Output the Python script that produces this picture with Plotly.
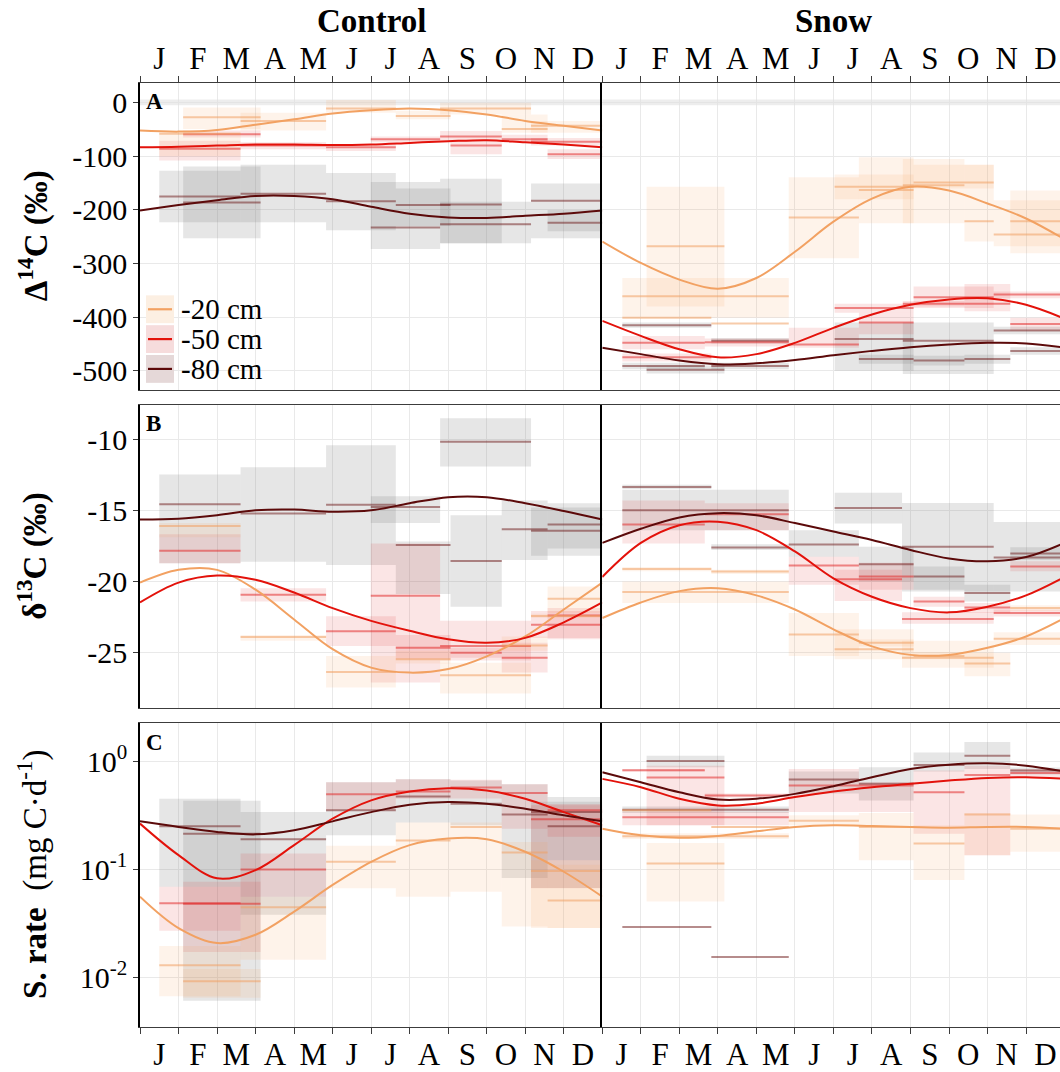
import plotly.graph_objects as go
from plotly.subplots import make_subplots

# ---------------- data ----------------
MONTHS = ["J", "F", "M", "A", "M", "J", "J", "A", "S", "O", "N", "D"]
KNOTS = list(range(13))          # curve knots at month boundaries (0 = 1 Jan, 12 = 31 Dec)
DEPTHS = ["-20 cm", "-50 cm", "-80 cm"]

# atmospheric reference band for Δ14C (low, high)
ATM_BAND = (-5, 6)

# intervals: (start month, end month, mean, low, high)
# ---- Panel A: Δ14C (‰)
A_CTRL_20 = [(0.50, 2.61, -58, -100, -55), (1.12, 3.13, -27, -49, -9), (2.61, 4.83, -34, -52, -19),
             (4.83, 6.64, -11, -19, 5), (6.64, 8.06, -25, -31, -15), (7.79, 10.15, -11, -22, 0),
             (9.39, 10.58, -49, -56, -22), (10.15, 12.0, -43, -56, -34)]
A_CTRL_50 = [(0.50, 2.61, -86, -108, -71), (1.12, 3.13, -59, -65, -52), (2.61, 4.83, -80, -87, -74),
             (4.83, 6.64, -83, -90, -77), (5.99, 7.79, -68, -74, -63), (7.79, 9.39, -63, -72, -53),
             (8.06, 9.39, -80, -96, -71), (9.39, 10.58, -68, -74, -60), (10.15, 12.0, -73, -80, -66),
             (10.58, 12.0, -96, -105, -87)]
A_CTRL_80 = [(0.50, 2.61, -175, -223, -127), (1.12, 3.13, -186, -253, -119), (2.61, 4.83, -170, -223, -116),
             (4.83, 6.64, -184, -238, -131), (5.99, 7.79, -233, -273, -148), (6.64, 8.06, -191, -230, -160),
             (7.79, 9.39, -190, -262, -142), (7.79, 10.15, -227, -262, -185), (10.15, 12.0, -183, -253, -151),
             (10.58, 12.0, -224, -240, -200)]
A_SNOW_20 = [(1.15, 3.17, -268, -380, -157), (0.52, 4.84, -361, -401, -327), (0.52, 2.83, -401, -401, -401),
             (2.83, 4.84, -412, -412, -412), (4.84, 6.66, -214, -290, -139), (6.03, 8.08, -157, -180, -134),
             (6.66, 8.08, -163, -225, -102), (7.80, 9.40, -154, -225, -105), (8.08, 10.16, -149, -160, -116),
             (9.40, 10.16, -221, -259, -116), (10.16, 12.0, -246, -268, -182), (10.59, 12.0, -221, -281, -164)]
A_SNOW_50 = [(0.52, 2.66, -448, -460, -435), (2.66, 4.84, -447, -455, -440), (0.52, 2.83, -475, -483, -468),
             (4.84, 6.66, -451, -457, -420), (6.03, 8.08, -383, -392, -375), (6.66, 8.08, -410, -432, -392),
             (8.08, 10.16, -363, -383, -343), (7.80, 9.40, -375, -380, -370), (9.40, 10.59, -375, -389, -338),
             (10.16, 12.0, -358, -365, -352), (10.59, 12.0, -413, -426, -401)]
A_SNOW_80 = [(0.52, 2.83, -415, -420, -410), (0.52, 2.66, -491, -497, -485), (1.15, 3.17, -498, -505, -490),
             (2.83, 4.84, -444, -449, -439), (2.83, 4.84, -491, -497, -485), (6.03, 8.08, -441, -500, -410),
             (6.66, 8.08, -478, -487, -470), (7.80, 10.16, -444, -506, -410), (8.08, 9.40, -481, -490, -472),
             (9.40, 10.59, -478, -487, -470), (10.16, 12.0, -425, -432, -418), (10.59, 12.0, -463, -470, -456)]
A_CTRL_CURVE_20 = [-52, -54, -51, -41, -31, -20, -14, -11, -14, -22, -34, -43, -52]
A_CTRL_CURVE_50 = [-83, -82, -80, -78, -78, -79, -78, -75, -72, -70, -74, -78, -83]
A_CTRL_CURVE_80 = [-201, -191, -182, -174, -174, -180, -194, -207, -214, -215, -211, -207, -201]
A_SNOW_CURVE_20 = [-259, -299, -330, -347, -327, -278, -222, -179, -157, -164, -188, -216, -255]
A_SNOW_CURVE_50 = [-407, -435, -460, -475, -469, -448, -420, -395, -377, -367, -365, -377, -403]
A_SNOW_CURVE_80 = [-457, -469, -481, -488, -486, -480, -471, -463, -456, -451, -448, -449, -457]

# ---- Panel B: δ13C (‰)
B_CTRL_20 = [(0.50, 2.61, -16.10, -16.9, -15.9), (2.61, 4.83, -23.93, -24.2, -23.8),
             (4.83, 6.64, -26.40, -27.50, -25.28), (6.64, 8.06, -25.50, -25.8, -24.9),
             (7.79, 10.15, -26.64, -27.92, -25.75), (9.39, 10.58, -24.53, -24.9, -23.9),
             (10.58, 12.0, -21.24, -22.24, -20.37), (10.15, 12.0, -22.45, -22.6, -22.3)]
B_CTRL_50 = [(0.50, 2.61, -17.85, -18.74, -16.68), (2.61, 4.83, -20.96, -21.43, -20.49),
             (4.83, 6.64, -23.53, -24.58, -22.48), (5.99, 7.79, -21.03, -27.15, -17.34),
             (6.64, 8.06, -24.70, -25.5, -23.8), (7.79, 10.15, -24.58, -25.6, -22.8),
             (8.06, 9.39, -25.05, -25.4, -24.7), (9.39, 10.58, -25.40, -26.45, -24.35),
             (10.15, 12.0, -23.08, -24.0, -22.1), (10.58, 12.0, -22.43, -24.1, -21.9)]
B_CTRL_80 = [(0.50, 2.61, -14.58, -18.74, -12.48), (2.61, 4.83, -15.23, -18.62, -11.96),
             (4.83, 6.64, -14.60, -18.86, -10.40), (5.99, 7.79, -14.77, -15.9, -14.0),
             (6.64, 8.06, -17.45, -20.9, -17.2), (7.79, 10.15, -10.16, -11.90, -8.50),
             (8.06, 9.39, -18.57, -21.80, -15.35), (9.39, 10.58, -16.33, -18.5, -14.3),
             (10.15, 12.0, -16.45, -18.2, -14.8), (10.58, 12.0, -16.00, -17.7, -14.5)]
B_SNOW_20 = [(0.52, 2.83, -19.14, -19.3, -19.0), (2.83, 4.84, -19.32, -19.5, -19.2),
             (0.52, 4.84, -20.77, -21.54, -20.02), (4.84, 6.66, -23.76, -25.28, -22.24),
             (6.03, 8.08, -24.81, -25.5, -23.4), (6.66, 8.08, -24.35, -24.6, -24.1),
             (7.78, 10.16, -25.40, -26.10, -24.2), (8.08, 9.40, -25.28, -25.5, -25.0),
             (9.40, 10.59, -25.80, -26.70, -25.05), (10.16, 12.0, -24.07, -24.5, -23.6),
             (10.59, 12.0, -21.89, -22.1, -21.7)]
B_SNOW_50 = [(0.52, 2.66, -16.00, -17.34, -14.30), (2.66, 4.84, -15.28, -16.4, -14.5),
             (4.84, 6.66, -18.90, -20.26, -18.27), (6.03, 7.78, -19.86, -21.4, -19.2),
             (6.66, 8.08, -19.67, -20.6, -18.7), (7.78, 10.16, -22.66, -23.0, -22.2),
             (8.08, 9.40, -21.43, -21.8, -21.1), (9.40, 10.59, -21.85, -22.24, -21.54),
             (10.16, 12.0, -22.24, -22.5, -22.0), (10.59, 12.0, -18.97, -19.3, -18.6)]
B_SNOW_80 = [(0.52, 2.83, -13.36, -13.5, -13.2), (0.52, 4.84, -15.00, -16.40, -13.55),
             (2.83, 4.84, -17.62, -17.8, -17.4), (4.84, 6.66, -17.41, -18.27, -16.40),
             (6.03, 7.78, -14.84, -15.93, -13.76), (6.66, 8.08, -18.81, -20.02, -17.57),
             (7.78, 10.16, -17.57, -20.72, -14.49), (8.08, 9.40, -19.67, -20.6, -18.97),
             (9.40, 10.59, -20.84, -21.43, -20.26), (10.16, 12.0, -18.32, -20.72, -15.82),
             (10.59, 12.0, -18.04, -18.5, -17.6)]
B_CTRL_CURVE_20 = [-20.1, -19.2, -19.2, -20.6, -22.7, -24.8, -26.1, -26.45, -26.2, -25.3, -23.9, -22.0, -20.1]
B_CTRL_CURVE_50 = [-21.5, -20.1, -19.6, -19.9, -20.8, -21.9, -22.8, -23.5, -24.1, -24.35, -24.0, -22.9, -21.5]
B_CTRL_CURVE_80 = [-15.65, -15.6, -15.35, -15.0, -14.95, -15.1, -15.0, -14.5, -14.07, -14.07, -14.5, -15.05, -15.65]
B_SNOW_CURVE_20 = [-22.6, -21.5, -20.7, -20.5, -21.0, -22.0, -23.4, -24.6, -25.2, -25.2, -24.7, -23.9, -22.6]
B_SNOW_CURVE_50 = [-19.7, -17.3, -16.05, -15.8, -16.4, -17.9, -19.8, -21.1, -21.9, -22.2, -21.8, -21.0, -19.7]
B_SNOW_CURVE_80 = [-17.3, -16.3, -15.5, -15.2, -15.35, -15.9, -16.5, -17.1, -17.8, -18.4, -18.6, -18.3, -17.3]

# ---- Panel C: soil respiration rate (mg C d-1), log scale
C_CTRL_20 = [(0.50, 2.61, 0.013, 0.0067, 0.0195), (1.12, 3.13, 0.00925, 0.0065, 0.012),
             (2.61, 4.83, 0.0446, 0.0146, 0.0558), (4.83, 6.64, 0.117, 0.0667, 0.165),
             (6.64, 8.06, 0.184, 0.0558, 0.27), (8.06, 9.39, 0.246, 0.062, 0.27),
             (9.39, 10.58, 0.143, 0.0296, 0.179), (10.15, 12.0, 0.0963, 0.0286, 0.121),
             (10.58, 12.0, 0.0514, 0.0286, 0.11)]
C_CTRL_50 = [(0.50, 2.61, 0.0485, 0.027, 0.069), (1.12, 3.13, 0.0479, 0.0172, 0.0768),
             (2.61, 4.83, 0.0995, 0.0558, 0.14), (4.83, 6.64, 0.494, 0.35, 0.637),
             (6.64, 8.06, 0.522, 0.448, 0.68), (8.06, 9.39, 0.57, 0.45, 0.67),
             (9.39, 10.58, 0.505, 0.237, 0.61), (10.15, 12.0, 0.289, 0.0667, 0.39),
             (10.58, 12.0, 0.35, 0.20, 0.40)]
C_CTRL_80 = [(0.50, 2.61, 0.25, 0.069, 0.448), (1.12, 3.13, 0.213, 0.0061, 0.43),
             (2.61, 4.83, 0.189, 0.038, 0.338), (4.83, 6.64, 0.350, 0.206, 0.637),
             (6.64, 8.06, 0.47, 0.27, 0.68), (8.06, 9.39, 0.403, 0.255, 0.66),
             (9.39, 10.58, 0.32, 0.083, 0.61), (10.15, 12.0, 0.338, 0.067, 0.42),
             (10.58, 12.0, 0.25, 0.121, 0.464)]
C_SNOW_20 = [(0.52, 4.84, 0.202, 0.19, 0.215), (0.52, 2.83, 0.35, 0.34, 0.36),
             (1.15, 3.17, 0.113, 0.0503, 0.175), (2.83, 4.84, 0.246, 0.24, 0.25),
             (4.84, 6.66, 0.281, 0.255, 0.315), (6.66, 8.08, 0.246, 0.121, 0.33),
             (8.08, 9.40, 0.173, 0.0795, 0.255), (9.40, 10.59, 0.32, 0.135, 0.33),
             (10.59, 12.0, 0.237, 0.145, 0.32)]
C_SNOW_50 = [(0.52, 2.66, 0.82, 0.80, 0.84), (1.15, 3.17, 0.703, 0.255, 0.906),
             (2.66, 4.84, 0.48, 0.46, 0.50), (0.52, 4.84, 0.303, 0.255, 0.34),
             (4.84, 6.66, 0.594, 0.338, 0.844), (6.66, 8.08, 0.594, 0.338, 0.637),
             (8.08, 9.40, 0.515, 0.213, 0.815), (9.40, 10.59, 0.744, 0.135, 0.906),
             (10.59, 12.0, 0.776, 0.70, 0.844)]
C_SNOW_80 = [(0.52, 2.83, 0.0292, 0.0292, 0.0292), (1.15, 3.17, 1.0, 0.875, 1.12),
             (2.83, 4.84, 0.0155, 0.0155, 0.0155), (0.52, 4.84, 0.355, 0.33, 0.38),
             (4.84, 6.66, 0.674, 0.5, 0.80), (6.66, 8.08, 0.615, 0.432, 0.875),
             (8.08, 9.40, 0.919, 0.80, 1.2), (9.40, 10.59, 1.12, 0.844, 1.5),
             (10.59, 12.0, 0.815, 0.75, 0.87)]
C_CTRL_CURVE_20 = [0.0558, 0.0286, 0.0208, 0.0248, 0.0406, 0.0716, 0.117, 0.167, 0.192, 0.189, 0.145, 0.0948, 0.0558]
C_CTRL_CURVE_50 = [0.264, 0.135, 0.0824, 0.0982, 0.167, 0.293, 0.433, 0.523, 0.561, 0.533, 0.448, 0.337, 0.255]
C_CTRL_CURVE_80 = [0.277, 0.246, 0.221, 0.210, 0.229, 0.277, 0.337, 0.394, 0.417, 0.403, 0.362, 0.315, 0.277]
C_SNOW_CURVE_20 = [0.237, 0.206, 0.195, 0.203, 0.224, 0.246, 0.255, 0.251, 0.246, 0.242, 0.246, 0.246, 0.237]
C_SNOW_CURVE_50 = [0.684, 0.573, 0.448, 0.389, 0.403, 0.464, 0.523, 0.573, 0.615, 0.660, 0.698, 0.708, 0.684]
C_SNOW_CURVE_80 = [0.787, 0.637, 0.515, 0.441, 0.448, 0.497, 0.585, 0.708, 0.844, 0.925, 0.952, 0.906, 0.798]

A_TICKS = [0, -100, -200, -300, -400, -500]
A_TICKTEXT = ["0", "-100", "-200", "-300", "-400", "-500"]
B_TICKS = [-10, -15, -20, -25]
B_TICKTEXT = ["-10", "-15", "-20", "-25"]
C_TICKS = [0.01, 0.1, 1]
C_TICKTEXT = ["10<sup>-2</sup>", "10<sup>-1</sup>", "10<sup>0</sup>"]

# ---------------- style ----------------
W, H = 1060, 1072
FONT = "Liberation Serif"
GRID = "#E9E9E9"
LINE_COL = ["#F2A162", "#E3120B", "#5C0A0A"]
SEG_COL = ["rgba(240,160,100,0.55)", "rgba(225,30,30,0.50)", "rgba(110,25,25,0.50)"]
FILL_COL = ["rgba(244,164,96,0.13)", "rgba(220,20,20,0.11)", "rgba(120,120,120,0.19)"]
KEY_FILL = ["#FCEFE2", "#F6DCDC", "#E5D8D8"]

PX_L, PX_MID, PX_R = 140.0, 602.3, 1060.0
ROWS_PX = [(83.3, 391.7), (407.3, 712.3), (727.3, 1032.3)]


def px_x(v):
    return v / W


def px_y(v):
    return 1 - v / H


month_px = (PX_MID - PX_L) / 12.0
snow_end = (PX_R - PX_MID) / month_px

fig = make_subplots(rows=3, cols=2, horizontal_spacing=0, vertical_spacing=0.02)


def box_xy(rec):
    s, e, m, lo, hi = rec
    return [s, e, e, s, s], [lo, lo, hi, hi, lo]


PANELS = [
    (1, 1, [A_CTRL_20, A_CTRL_50, A_CTRL_80], [A_CTRL_CURVE_20, A_CTRL_CURVE_50, A_CTRL_CURVE_80]),
    (1, 2, [A_SNOW_20, A_SNOW_50, A_SNOW_80], [A_SNOW_CURVE_20, A_SNOW_CURVE_50, A_SNOW_CURVE_80]),
    (2, 1, [B_CTRL_20, B_CTRL_50, B_CTRL_80], [B_CTRL_CURVE_20, B_CTRL_CURVE_50, B_CTRL_CURVE_80]),
    (2, 2, [B_SNOW_20, B_SNOW_50, B_SNOW_80], [B_SNOW_CURVE_20, B_SNOW_CURVE_50, B_SNOW_CURVE_80]),
    (3, 1, [C_CTRL_20, C_CTRL_50, C_CTRL_80], [C_CTRL_CURVE_20, C_CTRL_CURVE_50, C_CTRL_CURVE_80]),
    (3, 2, [C_SNOW_20, C_SNOW_50, C_SNOW_80], [C_SNOW_CURVE_20, C_SNOW_CURVE_50, C_SNOW_CURVE_80]),
]

for row, col, groups, curves in PANELS:
    if row == 1:
        lo, hi = ATM_BAND
        fig.add_trace(go.Scatter(x=[0, 12, 12, 0, 0], y=[lo, lo, hi, hi, lo], mode="lines",
                                 fill="toself", fillcolor="rgba(225,225,225,0.6)", line=dict(width=0),
                                 hoverinfo="skip", showlegend=False), row=row, col=col)
    # boxes (range of each sampling interval)
    for d in (2, 1, 0):
        for rec in groups[d]:
            if rec[3] == rec[4]:
                continue
            bx, by = box_xy(rec)
            fig.add_trace(go.Scatter(x=bx, y=by, mode="lines", fill="toself", fillcolor=FILL_COL[d],
                                     line=dict(width=0), hoverinfo="skip", showlegend=False),
                          row=row, col=col)
    # mean segments
    for d in (2, 1, 0):
        sx, sy = [], []
        for s, e, m, lo_, hi_ in groups[d]:
            sx += [s, e, None]
            sy += [m, m, None]
        fig.add_trace(go.Scatter(x=sx, y=sy, mode="lines", line=dict(color=SEG_COL[d], width=2),
                                 hoverinfo="skip", showlegend=False), row=row, col=col)
    # smooth seasonal fits
    for d in (0, 1, 2):
        fig.add_trace(go.Scatter(x=KNOTS, y=curves[d], mode="lines",
                                 line=dict(color=LINE_COL[d], width=2, shape="spline", smoothing=1.0),
                                 name=DEPTHS[d], showlegend=False), row=row, col=col)

MID = [i + 0.5 for i in range(12)]
BOUNDS = list(range(13))


def xaxis_cfg(col, row):
    labels = row in (1, 3)
    d = dict(
        domain=[px_x(PX_L), px_x(PX_MID)] if col == 1 else [px_x(PX_MID), 1.0],
        range=[0, 12] if col == 1 else [0, snow_end],
        tickmode="array", tickvals=MID, ticktext=MONTHS, showticklabels=labels, ticks="",
        showgrid=False, zeroline=False, showline=True, mirror=True, linecolor="#3c3c3c", linewidth=1.2,
        tickfont=dict(family=FONT, size=31, color="black"),
        minor=dict(tickmode="array", tickvals=BOUNDS, ticks="outside" if labels else "", ticklen=6,
                   tickwidth=1.2, tickcolor="#3c3c3c", showgrid=True, gridcolor=GRID, gridwidth=1.4),
        side="top" if row == 1 else "bottom",
    )
    return d


def yaxis_cfg(col, row):
    rng = {1: [-535, 37], 2: [-28.97, -7.57], 3: [-2.453, 0.349]}[row]
    vals = {1: A_TICKS, 2: B_TICKS, 3: C_TICKS}[row]
    texts = {1: A_TICKTEXT, 2: B_TICKTEXT, 3: C_TICKTEXT}[row]
    top, bot = ROWS_PX[row - 1]
    d = dict(
        domain=[px_y(bot), px_y(top)], range=rng, tickmode="array", tickvals=vals, ticktext=texts,
        showticklabels=(col == 1), ticks="outside" if col == 1 else "", ticklen=5, tickwidth=1.2,
        tickcolor="#3c3c3c", showgrid=True, gridcolor=GRID, gridwidth=1.4, zeroline=False,
        showline=True, linecolor="black", linewidth=1.5, mirror=False,
        tickfont=dict(family=FONT, size=30, color="black"),
    )
    if row == 3:
        d["type"] = "log"
    return d


layout_axes = {}
for row in (1, 2, 3):
    for col in (1, 2):
        n = (row - 1) * 2 + col
        suffix = "" if n == 1 else str(n)
        layout_axes["xaxis" + suffix] = xaxis_cfg(col, row)
        layout_axes["yaxis" + suffix] = yaxis_cfg(col, row)
fig.update_layout(**layout_axes)

ann = []
# column titles
for title, cx in (("<b>Control</b>", (PX_L + PX_MID) / 2), ("<b>Snow</b>", PX_MID + 6 * month_px)):
    ann.append(dict(text=title, x=px_x(cx), y=px_y(21), xref="paper", yref="paper",
                    xanchor="center", yanchor="middle", showarrow=False,
                    font=dict(family=FONT, size=33, color="black")))
# panel letters
for letter, (top, bot) in zip("ABC", ROWS_PX):
    ann.append(dict(text="<b>%s</b>" % letter, x=px_x(144), y=px_y(top + 19), xref="paper", yref="paper",
                    xanchor="left", yanchor="middle", showarrow=False,
                    font=dict(family=FONT, size=23, color="black")))
# y-axis titles
YTITLES = ["<b>Δ<sup>14</sup>C (‰)</b>", "<b>δ<sup>13</sup>C (‰)</b>",
           "<b>S. rate</b>\u00a0\u00a0(mg\u00a0C·d<sup>-1</sup>)"]
for t, (top, bot) in zip(YTITLES, ROWS_PX):
    ann.append(dict(text=t, x=px_x(33), y=px_y((top + bot) / 2), xref="paper", yref="paper",
                    xanchor="center", yanchor="middle", textangle=-90, showarrow=False,
                    font=dict(family=FONT, size=33, color="black")))

# legend (inside panel A control, bottom-left)
shapes = []
for i, name in enumerate(DEPTHS):
    yc = 311 + i * 30
    shapes.append(dict(type="rect", xref="paper", yref="paper", x0=px_x(146), x1=px_x(174),
                       y0=px_y(yc - 14), y1=px_y(yc + 14), fillcolor=KEY_FILL[i], line=dict(width=0),
                       layer="above"))
    shapes.append(dict(type="line", xref="paper", yref="paper", x0=px_x(148), x1=px_x(172),
                       y0=px_y(yc), y1=px_y(yc), line=dict(color=LINE_COL[i], width=2.2), layer="above"))
    ann.append(dict(text=name, x=px_x(179), y=px_y(yc), xref="paper", yref="paper", xanchor="left",
                    yanchor="middle", showarrow=False, font=dict(family=FONT, size=29, color="black")))

fig.update_layout(
    width=W, height=H, margin=dict(l=0, r=0, t=0, b=0),
    paper_bgcolor="white", plot_bgcolor="white", showlegend=False,
    annotations=ann, shapes=shapes,
    font=dict(family=FONT, color="black"),
)

fig.write_html("out.html")
